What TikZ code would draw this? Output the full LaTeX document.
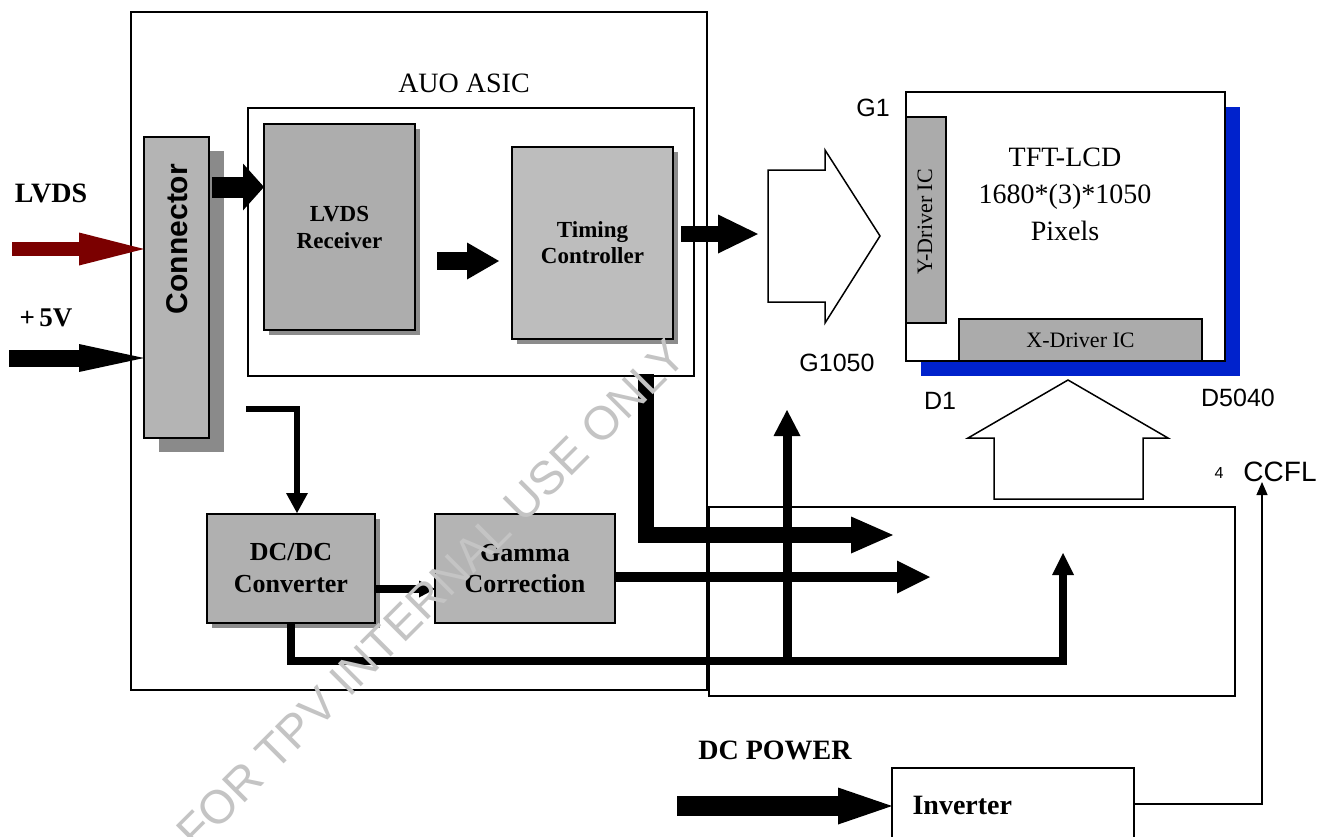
\documentclass[tikz,border=0pt]{standalone}
\usepackage{fontspec}
\setmainfont{Liberation Serif}
\setsansfont{Liberation Sans}
\usetikzlibrary{arrows.meta}
\definecolor{connfill}{HTML}{B4B4B4}
\definecolor{shadowdark}{HTML}{8A8A8A}
\definecolor{shadowmid}{HTML}{8C8C8C}
\definecolor{rxfill}{HTML}{ADADAD}
\definecolor{tcfill}{HTML}{BDBDBD}
\definecolor{dcfill}{HTML}{B0B0B0}
\definecolor{gmfill}{HTML}{B4B4B4}
\definecolor{drvfill}{HTML}{ABABAB}
\definecolor{lvdsred}{HTML}{7B0000}
\definecolor{panelblue}{HTML}{0022CC}
\definecolor{wmgray}{HTML}{C4C4C4}
\begin{document}
\begin{tikzpicture}[x=1pt,y=-1pt,
  frame/.style={draw, line width=1.5pt, inner sep=0pt, outer sep=0pt},
  gbox/.style={frame, fill=#1},
  bigshadow/.style={preaction={fill=shadowdark, transform canvas={xshift=15pt,yshift=-14pt}}},
  smallshadow/.style={preaction={fill=shadowmid, transform canvas={xshift=5pt,yshift=-5pt}}},
  blueshadow/.style={preaction={fill=panelblue, transform canvas={xshift=15pt,yshift=-15pt}}},
  barrow/.style n args={3}{line width=#1pt, line join=miter, -{Triangle[length=#2pt,width=#3pt,line width=0pt]}},
  hollow/.style={draw, line width=1.5pt, fill=white, line join=miter},
  boldserif/.style={font=\bfseries\fontsize{#1}{#1}\selectfont},
  plainserif/.style={font=\fontsize{#1}{#1}\selectfont},
  plainsans/.style={font=\sffamily\fontsize{#1}{#1}\selectfont},
]
\useasboundingbox[fill=white] (0,0) rectangle (1332,836);

% ---------- frames ----------
\node[frame, minimum width=576pt, minimum height=678pt] (outer) at (419,351) {};
\node[frame, minimum width=526pt, minimum height=189pt] (drvbox) at (972,601.5) {};
\node[frame, minimum width=446pt, minimum height=268pt] (asic) at (471,242) {};
\node[plainserif=28] (asiclbl) at (464,83) {AUO ASIC};

% ---------- connector ----------
\node[gbox=connfill, bigshadow, minimum width=65pt, minimum height=301pt] (conn) at (176.5,287.5) {};
\node[rotate=90, font=\sffamily\bfseries\fontsize{30}{30}\selectfont] (connlbl) at (177,239) {Connector};

% ---------- ASIC blocks ----------
\node[gbox=rxfill, smallshadow, minimum width=151pt, minimum height=206pt,
      align=center, font=\bfseries\fontsize{23}{27}\selectfont] (lvdsrx) at (339.5,227) {LVDS\\Receiver};
\node[gbox=tcfill, smallshadow, minimum width=161pt, minimum height=192pt,
      align=center, font=\bfseries\fontsize{23}{26}\selectfont] (timing) at (592.5,243) {Timing\\Controller};
\node[gbox=dcfill, smallshadow, minimum width=168pt, minimum height=109pt,
      align=center, font=\bfseries\fontsize{26}{32}\selectfont] (dcdc) at (291,568.5) {DC/DC\\Converter};
\node[gbox=gmfill, minimum width=180pt, minimum height=109pt,
      align=center, font=\bfseries\fontsize{26}{31}\selectfont] (gamma) at (525,568.5) {Gamma\\Correction};

% ---------- panel ----------
\node[frame, fill=white, blueshadow, minimum width=319pt, minimum height=269pt] (panel) at (1065.5,226.5) {};
\node[gbox=drvfill, minimum width=40pt, minimum height=206pt] (ydrv) at (926,220) {};
\node[rotate=90, plainserif=22] (ydrvlbl) at (925,222) {Y-Driver IC};
\node[gbox=drvfill, minimum width=243pt, minimum height=42pt, plainserif=22] (xdrv) at (1080.5,340) {X-Driver IC};
\node[align=center, font=\fontsize{28}{37}\selectfont] (tft) at (1065,194) {TFT-LCD\\1680*(3)*1050\\Pixels};

\node[plainsans=25] (g1) at (873,108) {G1};
\node[plainsans=25] (g1050) at (837,363) {G1050};
\node[plainsans=25] (d1) at (940,401) {D1};
\node[plainsans=25] (d5040) at (1238,398) {D5040};

% ---------- hollow arrows ----------
\draw[hollow] (768,170) -- (825,170) -- (825,150) -- (880,236) -- (825,323) -- (825,302) -- (768,302) -- cycle;
\draw[hollow] (994,499) -- (1143,499) -- (1143,438) -- (1168,438) -- (1068,380) -- (968,438) -- (994,438) -- cycle;

% ---------- inverter ----------
\node[frame, minimum width=242pt, minimum height=90pt, anchor=north west] (inv) at (892,768) {};
\node[boldserif=28, anchor=west] (invlbl) at (909,805) {Inverter};
\node[boldserif=28] (dcpwr) at (775,750) {DC POWER};
\node[plainsans=28] (ccfl) at (1280,472) {CCFL};
\node[plainsans=16] (four) at (1219,473) {4};

% ---------- left inputs ----------
\node[boldserif=28] (lvdslbl) at (51,193) {LVDS};
\node[boldserif=27] (p5lbl) at (46,318) {+\,5V};

\coordinate (lvdsin) at (12,249);
\coordinate (p5in) at (9,358);
\draw[lvdsred, barrow={14}{65}{33}] (lvdsin) -- (lvdsin -| conn.west);
\draw[black, barrow={17}{65}{28}] (p5in) -- (p5in -| conn.west);

% ---------- thick connectors ----------
\coordinate (c1) at (212,187);
\draw[barrow={21}{21}{47}] (c1) -- (c1 -| lvdsrx.west);
\coordinate (r1) at (437,261);
\coordinate (r2) at (499,261);
\draw[barrow={18}{32}{37}] (r1) -- (r2);
\coordinate (t1) at (681,234);
\coordinate (t2) at (758,234);
\draw[barrow={16}{40}{39}] (t1) -- (t2);

\coordinate (tdown) at (646,374);
\coordinate (ttip) at (893,535);
\draw[barrow={16}{42}{37}] (tdown) |- (ttip);

\coordinate (gout) at (615,577);
\coordinate (gtip) at (930,577);
\draw[barrow={10}{33}{33}] (gout) -- (gtip);

\coordinate (dg) at (0,589);
\draw[barrow={8}{16}{17}] (dcdc.east |- dg) -- (gamma.west |- dg);

\coordinate (c2s) at (246,409);
\coordinate (dctop) at (297,513);
\draw[barrow={6}{20}{22}] (c2s) -| (dctop);

\coordinate (pwrtip) at (1063,553);
\coordinate (pwrrow) at (1063,661);
\draw[barrow={8}{22}{22}] (dcdc.south) |- (pwrrow) -- (pwrtip);
\coordinate (vbot) at (787,661);
\coordinate (vtop) at (787,410);
\draw[barrow={9}{26}{27}] (vbot) -- (vtop);

\coordinate (dcp) at (677,806);
\draw[barrow={20}{54}{37}] (dcp) -- (dcp -| inv.west);

\coordinate (invout) at (1134,804);
\coordinate (ccfltip) at (1262,482);
\draw[line width=1.2pt, -{Triangle[length=13pt,width=11pt]}] (invout) -| (ccfltip);

% ---------- watermark ----------
\node[rotate=45, text=wmgray, font=\sffamily\fontsize{47}{47}\selectfont] (wm) at (431,594) {FOR TPV INTERNAL USE ONLY};
\end{tikzpicture}
\end{document}
